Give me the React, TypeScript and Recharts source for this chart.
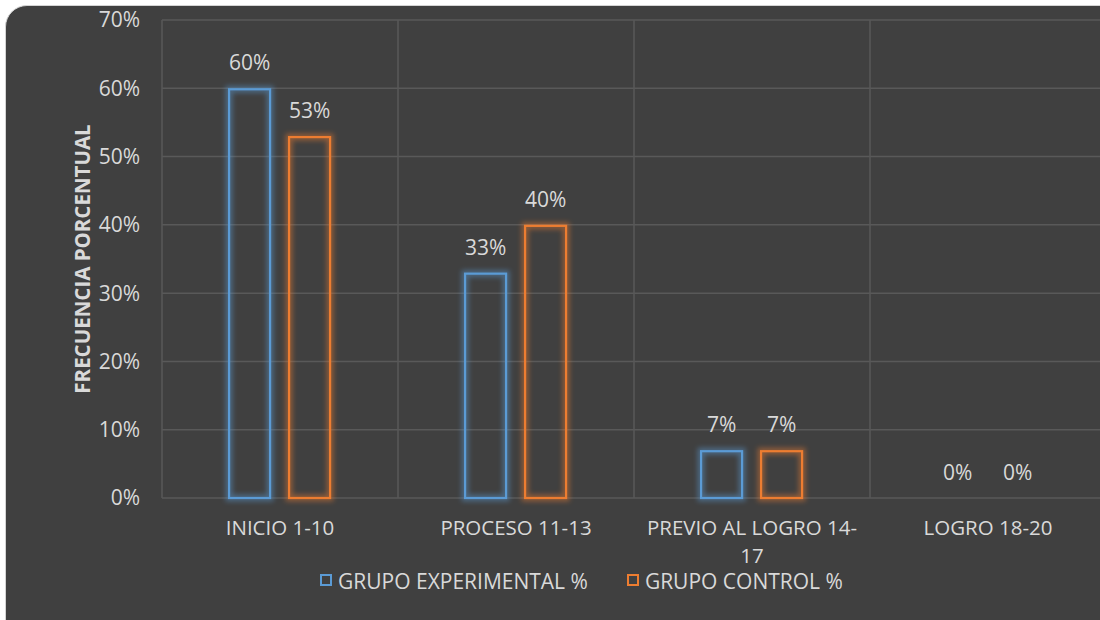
import React from 'react';
import { BarChart, Bar, XAxis, YAxis, CartesianGrid, LabelList } from 'recharts';

// values
const categories = ['INICIO 1-10', 'PROCESO 11-13', 'PREVIO AL LOGRO 14-17', 'LOGRO 18-20'];
const experimental = [60, 33, 7, 0];
const control = [53, 40, 7, 0];
const yTicks = [0, 10, 20, 30, 40, 50, 60, 70];
const seriesNames = ['GRUPO EXPERIMENTAL %', 'GRUPO CONTROL %'];

const data = categories.map((name, i) => ({
  name,
  experimental: experimental[i],
  control: control[i],
}));

const BG = '#404040';
const TEXT = '#d9d9d9';
const GRID = '#595959';
const BLUE = '#5b9bd5';
const ORANGE = '#ed7d31';
const FONT = '"Open Sans", sans-serif';
const FS = 21;

const GlowBar = (props: any) => {
  const { x, y, width, height, stroke } = props;
  if (!height || height <= 0) return null;
  return (
    <g>
      <rect x={x + 1} y={y + 1} width={width - 2} height={height - 1} fill="none" stroke={stroke} strokeWidth={7} opacity={0.45} filter="url(#soft-glow)" />
      <rect x={x + 1} y={y + 1} width={width - 2} height={height - 1} fill="none" stroke={stroke} strokeWidth={2.2} />
    </g>
  );
};

// splits long labels after a hyphen, like Excel does
const CategoryTick = (props: any) => {
  const { x, y, payload } = props;
  const text: string = payload.value;
  let lines = [text];
  if (text.length > 18 && text.lastIndexOf('-') > 0) {
    const k = text.lastIndexOf('-') + 1;
    lines = [text.slice(0, k), text.slice(k)];
  }
  return (
    <text x={x} y={y + 35} textAnchor="middle" fill={TEXT} fontSize={20.5} fontFamily={FONT}>
      {lines.map((l, i) => (
        <tspan key={i} x={x} dy={i === 0 ? 0 : 28}>{l}</tspan>
      ))}
    </text>
  );
};

const LegendItem = ({ color, label }: { color: string; label: string }) => (
  <div style={{ display: 'flex', alignItems: 'flex-start', marginRight: 39 }}>
    <span style={{ width: 8, height: 8, border: `2px solid ${color}`, marginRight: 6, marginTop: 1, display: 'inline-block' }} />
    <span style={{ color: TEXT, fontSize: FS, lineHeight: '17px', fontFamily: FONT, whiteSpace: 'nowrap' }}>{label}</span>
  </div>
);

export default function App() {
  return (
    <div style={{ position: 'fixed', left: 0, top: 0, width: 1100, height: 620, overflow: 'hidden', background: '#fff' }}>
      <svg width={0} height={0} style={{ position: 'absolute' }}>
        <defs>
          <filter id="soft-glow" x="-50%" y="-50%" width="200%" height="200%">
            <feGaussianBlur stdDeviation="2.5" />
          </filter>
        </defs>
      </svg>
      <div
        style={{
          position: 'absolute', left: 5, top: 5, width: 1130, height: 650,
          background: BG, borderRadius: 22, border: '1.5px solid #d4d4d4',
        }}
      />
      <div style={{ position: 'absolute', left: 0, top: 0 }}>
        <BarChart
          width={1120}
          height={620}
          data={data}
          margin={{ top: 20, right: 14, left: 102, bottom: 0 }}
          barCategoryGap="28%"
          barGap={17}
        >
          <CartesianGrid
            stroke={GRID}
            strokeWidth={1.5}
            verticalCoordinatesGenerator={({ offset }: any) =>
              categories.map((_, i) => offset.left + (i * offset.width) / categories.length).concat(offset.left + offset.width)
            }
          />
          <XAxis
            dataKey="name"
            axisLine={false}
            tickLine={false}
            tickSize={0}
            height={122}
            interval={0}
            tick={<CategoryTick />}
          />
          <YAxis
            domain={[0, 70]}
            ticks={yTicks}
            width={60}
            axisLine={false}
            tickLine={false}
            tickSize={0}
            tickMargin={22}
            tickFormatter={(v: number) => `${v}%`}
            tick={{ fill: TEXT, fontSize: FS, fontFamily: FONT }}
            label={{
              value: 'FRECUENCIA PORCENTUAL', angle: -90, position: 'left', offset: 19,
              style: { fill: TEXT, fontSize: 20.5, fontWeight: 'bold', fontFamily: FONT, textAnchor: 'middle' },
            }}
          />
          <Bar dataKey="experimental" stroke={BLUE} fill={BG} shape={<GlowBar />} isAnimationActive={false}>
            <LabelList dataKey="experimental" position="top" offset={18} formatter={(v: any) => `${v}%`} fill={TEXT} fontSize={FS} fontFamily={FONT} />
          </Bar>
          <Bar dataKey="control" stroke={ORANGE} fill={BG} shape={<GlowBar />} isAnimationActive={false}>
            <LabelList dataKey="control" position="top" offset={18} formatter={(v: any) => `${v}%`} fill={TEXT} fontSize={FS} fontFamily={FONT} />
          </Bar>
        </BarChart>
      </div>
      <div style={{ position: 'absolute', left: 320, top: 573, display: 'flex' }}>
        <LegendItem color={BLUE} label={seriesNames[0]} />
        <LegendItem color={ORANGE} label={seriesNames[1]} />
      </div>
    </div>
  );
}
